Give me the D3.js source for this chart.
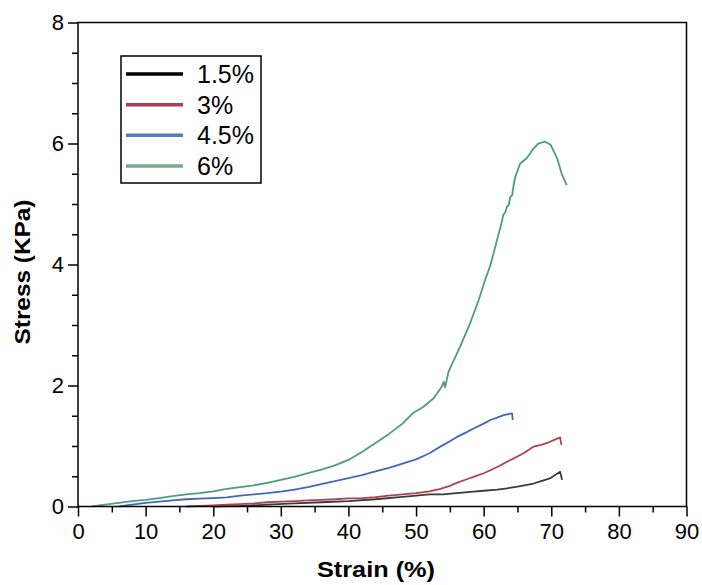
<!DOCTYPE html>
<html>
<head>
<meta charset="utf-8">
<script src="https://cdn.jsdelivr.net/npm/d3@7"></script>
<style>
  html, body { margin: 0; padding: 0; background: #fff; }
  svg { display: block; font-family: "Liberation Sans", Arial, sans-serif; }
</style>
</head>
<body>
<svg id="chart" width="702" height="585"></svg>
<script>
// ---- Data (strain %, stress KPa) ----
const seriesNames = ["1.5%", "3%", "4.5%", "6%"];
const seriesColors = ["#3a3a3a", "#b3404f", "#4068b4", "#4f9a84"];
const legendColors = ["#000000", "#a8404f", "#5b79c3", "#7aa890"];

const strain15 = [20,24,28,32,36,40,44,48,50,52,54,56,58.5,60,62,63.45,65,67.4,68.5,69.9,71.3,71.6];
const stress15 = [0.0,0.01,0.03,0.05,0.07,0.09,0.12,0.16,0.18,0.2,0.2,0.22,0.245,0.26,0.28,0.3,0.33,0.38,0.42,0.47,0.575,0.44];

const strain3 = [16,18,20,22,24,26,28,30,32,34,36,38,40,42,44,46,48,50,52,53.6,55,56,57.5,58.5,60,61,62.3,63.45,64.7,65.9,67.4,68.5,69.4,70.6,71.3,71.5];
const stress3 = [0.0,0.01,0.02,0.03,0.04,0.05,0.07,0.08,0.09,0.1,0.11,0.12,0.135,0.14,0.155,0.18,0.2,0.22,0.25,0.29,0.34,0.39,0.45,0.49,0.55,0.6,0.67,0.74,0.81,0.88,0.99,1.02,1.05,1.11,1.14,1.02];

const strain45 = [6,8,10,12,14,16,18,20,22,24,26,28,30,32,34,36,38,40,42,44,46,48,50,52,53.6,55,56.05,57.5,58.5,60,61,62,62.95,64.2,64.3];
const stress45 = [0.0,0.03,0.06,0.08,0.1,0.12,0.13,0.14,0.15,0.18,0.2,0.22,0.245,0.28,0.32,0.37,0.42,0.47,0.52,0.58,0.64,0.71,0.78,0.88,0.99,1.08,1.15,1.23,1.29,1.37,1.43,1.47,1.51,1.54,1.43];

const strain6 = [2,4,6,8,10,12,14,16,18,20,22,24,26,28,30,32,34,36,38,40,42,44,46,48,49.6,51,52.6,53.8,54.1,54.3,54.8,56.5,58,59.25,60.2,61,62.7,62.9,63.2,63.45,63.7,63.94,64.2,64.43,64.68,65.4,66.4,67.4,68.1,69.1,69.9,70.85,71.6,72.3];
const stress6 = [0.0,0.03,0.06,0.09,0.11,0.14,0.17,0.2,0.22,0.25,0.29,0.32,0.35,0.39,0.44,0.49,0.55,0.61,0.68,0.77,0.9,1.05,1.2,1.37,1.55,1.64,1.79,1.98,2.06,1.97,2.23,2.64,3.03,3.41,3.74,3.99,4.71,4.82,4.86,4.96,4.98,5.12,5.14,5.31,5.45,5.67,5.76,5.92,6.0,6.03,5.98,5.76,5.48,5.31];

const xTicks = [0,10,20,30,40,50,60,70,80,90];
const yTicks = [0,2,4,6,8];
const xLabel = "Strain (%)";
const yLabel = "Stress (KPa)";

// ---- Layout ----
const svg = d3.select("#chart");
const W = 702, H = 585;
const m = { left: 78, top: 22.5, right: 15.5, bottom: 78.5 };
const iw = W - m.left - m.right, ih = H - m.top - m.bottom;

const x = d3.scaleLinear().domain([0, 90]).range([0, iw]);
const y = d3.scaleLinear().domain([0, 8]).range([ih, 0]);

const g = svg.append("g").attr("transform", `translate(${m.left},${m.top})`);

const allStrain = [strain15, strain3, strain45, strain6];
const allStress = [stress15, stress3, stress45, stress6];
const line = d3.line().x(d => x(d[0])).y(d => y(d[1]));

[0,1,2,3].forEach(i => {
  const pts = allStrain[i].map((s, k) => [s, allStress[i][k]]);
  g.append("path")
    .datum(pts)
    .attr("fill", "none")
    .attr("stroke", seriesColors[i])
    .attr("stroke-width", 1.8)
    .attr("stroke-linejoin", "round")
    .attr("d", line);
});

// frame
g.append("rect").attr("x", 0).attr("y", 0).attr("width", iw).attr("height", ih)
  .attr("fill", "none").attr("stroke", "#000").attr("stroke-width", 1.5);

// axes
const xAxis = d3.axisBottom(x).tickValues(xTicks).tickSize(10).tickPadding(7).tickFormat(d3.format("d"));
const xMinor = d3.axisBottom(x).tickValues(d3.range(5, 90, 10)).tickSize(6).tickFormat("");
const yAxis = d3.axisLeft(y).tickValues(yTicks).tickSize(10).tickPadding(4).tickFormat(d3.format("d"));
const yMinor = d3.axisLeft(y).tickValues(d3.range(0.5, 8, 0.5).filter(v => v % 2 !== 0)).tickSize(6).tickFormat("");

function styleAxis(sel) {
  sel.select(".domain").remove();
  sel.selectAll("line").attr("stroke", "#000").attr("stroke-width", 1.5);
  sel.selectAll("text").attr("fill", "#000").style("font-size", "22px")
    .style("font-family", "'Liberation Sans', Arial, sans-serif");
}
g.append("g").attr("transform", `translate(0,${ih})`).call(xAxis).call(styleAxis);
g.append("g").attr("transform", `translate(0,${ih})`).call(xMinor).call(styleAxis);
g.append("g").call(yAxis).call(styleAxis);
g.append("g").call(yMinor).call(styleAxis);

// axis titles
svg.append("text")
  .attr("x", 376).attr("y", 577)
  .attr("text-anchor", "middle")
  .attr("textLength", 118).attr("lengthAdjust", "spacingAndGlyphs")
  .style("font-size", "22px").style("font-weight", "bold")
  .text(xLabel);
svg.append("text")
  .attr("transform", `translate(30,272) rotate(-90)`)
  .attr("text-anchor", "middle")
  .attr("textLength", 145).attr("lengthAdjust", "spacingAndGlyphs")
  .style("font-size", "22px").style("font-weight", "bold")
  .text(yLabel);

// legend
const lg = svg.append("g");
lg.append("rect").attr("x", 121).attr("y", 56).attr("width", 140).attr("height", 127)
  .attr("fill", "#fff").attr("stroke", "#000").attr("stroke-width", 1.5);
const legY = d3.scalePoint().domain(seriesNames).range([74, 166]);
seriesNames.forEach((name, i) => {
  lg.append("line").attr("x1", 126).attr("x2", 183)
    .attr("y1", legY(name)).attr("y2", legY(name))
    .attr("stroke", legendColors[i]).attr("stroke-width", 3.5);
  lg.append("text").attr("x", 197).attr("y", legY(name) + 9)
    .style("font-size", "25px").attr("fill", "#000").text(name);
});
</script>
</body>
</html>
